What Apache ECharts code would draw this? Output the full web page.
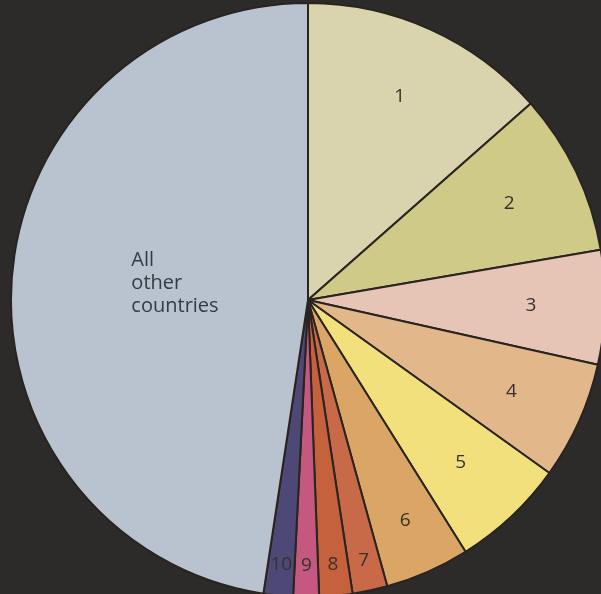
<!DOCTYPE html>
<html>
<head>
<meta charset="utf-8">
<script src="https://cdn.jsdelivr.net/npm/echarts@6/dist/echarts.min.js"></script>
<style>
html,body{margin:0;padding:0;background:#2d2a2a;}
#chart{width:601px;height:594px;}
</style>
</head>
<body>
<div id="chart"></div>
<script>
// ---- data ----
const categories = ['1','2','3','4','5','6','7','8','9','10','All\nother\ncountries'];
const values = [13.5, 8.8, 6.2, 6.4, 6.2, 4.6, 1.9, 1.8, 1.4, 1.6, 47.6];

// ---- styles ----
const colors = ['#d9d3ae','#cfca87','#e6c5b6','#e2b88b','#f2e07c','#dba565','#c86a47','#c5613d','#c4587f','#4d4876','#b8c3cf'];
const CENTER = [308, 300];
const RADIUS = 297;
const START = 90;
// label rings: inside labels sit at radius/2 of an invisible pie
const labelRings = [
  {items: [0,1,2,3,4], radius: 440},
  {items: [5], radius: 476},
  {items: [6,7,8,9], radius: 526},
  {items: [10], radius: 254, rich: true, offset: [0, -7]}
];

const chart = echarts.init(document.getElementById('chart'), null, {renderer: 'canvas'});

const mainSeries = {
  type: 'pie',
  center: CENTER,
  radius: RADIUS,
  startAngle: START,
  clockwise: true,
  avoidLabelOverlap: false,
  silent: true,
  label: {show: false},
  labelLine: {show: false},
  itemStyle: {borderColor: '#2a2420', borderWidth: 2},
  data: categories.map((c, i) => ({name: c, value: values[i], itemStyle: {color: colors[i]}}))
};

const labelSeries = labelRings.map(ring => ({
  type: 'pie',
  center: CENTER,
  radius: [0, ring.radius],
  startAngle: START,
  clockwise: true,
  avoidLabelOverlap: false,
  silent: true,
  z: 5,
  itemStyle: {color: 'rgba(0,0,0,0)', borderWidth: 0},
  labelLine: {show: false},
  label: {
    show: true,
    position: 'inside',
    color: '#36322e',
    fontFamily: '"Open Sans", Arial, sans-serif',
    fontSize: 19,
    offset: ring.offset || [0, 0],
    formatter: ring.rich
      ? (p => p.name.split('\n').map(s => '{a|' + s + '}').join('\n'))
      : '{b}',
    rich: ring.rich ? {
      a: {width: 94, align: 'left', fontSize: 20, lineHeight: 23, color: '#363a42', fontFamily: '"Open Sans", Arial, sans-serif'}
    } : {}
  },
  data: categories.map((c, i) => ({
    name: c, value: values[i],
    label: {show: ring.items.indexOf(i) >= 0}
  }))
}));

chart.setOption({
  backgroundColor: '#2d2a2a',
  animation: false,
  series: [mainSeries].concat(labelSeries)
});
</script>
</body>
</html>
